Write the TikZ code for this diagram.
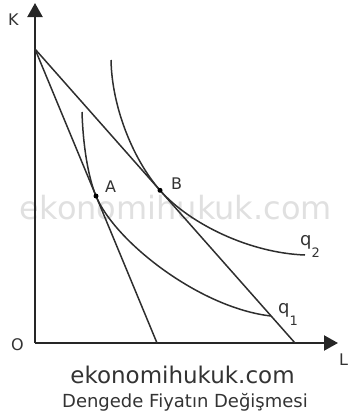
\documentclass[tikz,border=0pt]{standalone}
\usepackage{fontspec}
\setmainfont{DejaVu Sans}
\usetikzlibrary{arrows.meta}
\begin{document}
\begin{tikzpicture}[x=1pt,y=-1pt,
  axis/.style={line width=2.2pt, draw=black!85, -{Triangle[length=14pt,width=15pt]}},
  curve/.style={line width=1.5pt, draw=black!82},
  lbl/.style={font=\fontsize{16}{16}\selectfont, text=black!80, inner sep=0pt},
  qlbl/.style={font=\fontsize{18}{18}\selectfont, text=black!80, inner sep=0pt, anchor=base west},
  dot/.style={circle, fill=black, inner sep=0pt, minimum size=5pt}]
\useasboundingbox (0,0) rectangle (348,418);
% watermark
\node[font=\fontsize{32}{32}\selectfont, text=black!12, inner sep=0pt] (wm) at (176,208) {ekonomihukuk.com};
% axes
\coordinate (O) at (35,343);
\coordinate (Ktip) at (35,3);
\coordinate (Ltip) at (338,343);
\draw[axis] (O) -- (Ktip);
\draw[axis] (O) -- (Ltip);
% budget lines
\coordinate (T) at (35,49);
\coordinate (E1) at (157,343);
\coordinate (E2) at (295,343);
\draw[curve] (T) -- (E1);
\draw[curve] (T) -- (E2);
% tangency points
\coordinate (A) at (96,196);
\coordinate (B) at (160,190.3);
% q1
\coordinate (q1s) at (82,112);
\coordinate (q1e) at (271,316);
\draw[curve] (q1s) .. controls (83,145) and (88,176.7) .. (A)
  .. controls (115,241.8) and (200,308) .. (q1e);
% q2
\coordinate (q2s) at (111,60);
\coordinate (q2e) at (305,255);
\draw[curve] (q2s) .. controls (112,110) and (135,161.9) .. (B)
  .. controls (190,224.2) and (250,253) .. (q2e);
% dots
\node[dot] (dA) at (A) {};
\node[dot] (dB) at (B) {};
% labels
\node[lbl, anchor=base west] (lA) at (105,192) {A};
\node[lbl, anchor=base west] (lB) at (171,189) {B};
\node[lbl, anchor=base west] (lK) at (8,25) {K};
\node[lbl, anchor=base west] (lO) at (11,350) {O};
\node[lbl, anchor=base west] (lL) at (339,365) {L};
\node[qlbl] (lq1) at (278,313) {q\raisebox{-12pt}{\fontsize{13}{13}\selectfont 1}};
\node[qlbl] (lq2) at (300,245) {q\raisebox{-12pt}{\fontsize{13}{13}\selectfont 2}};
% captions
\node[font=\fontsize{23}{23}\selectfont, text=black!80, inner sep=0pt, anchor=base] (t1) at (182.5,383) {ekonomihukuk.com};
\node[font=\fontsize{18}{18}\selectfont, text=black!80, inner sep=0pt, anchor=base] (t2) at (185,407) {Dengede Fiyatın Değişmesi};
\end{tikzpicture}
\end{document}
